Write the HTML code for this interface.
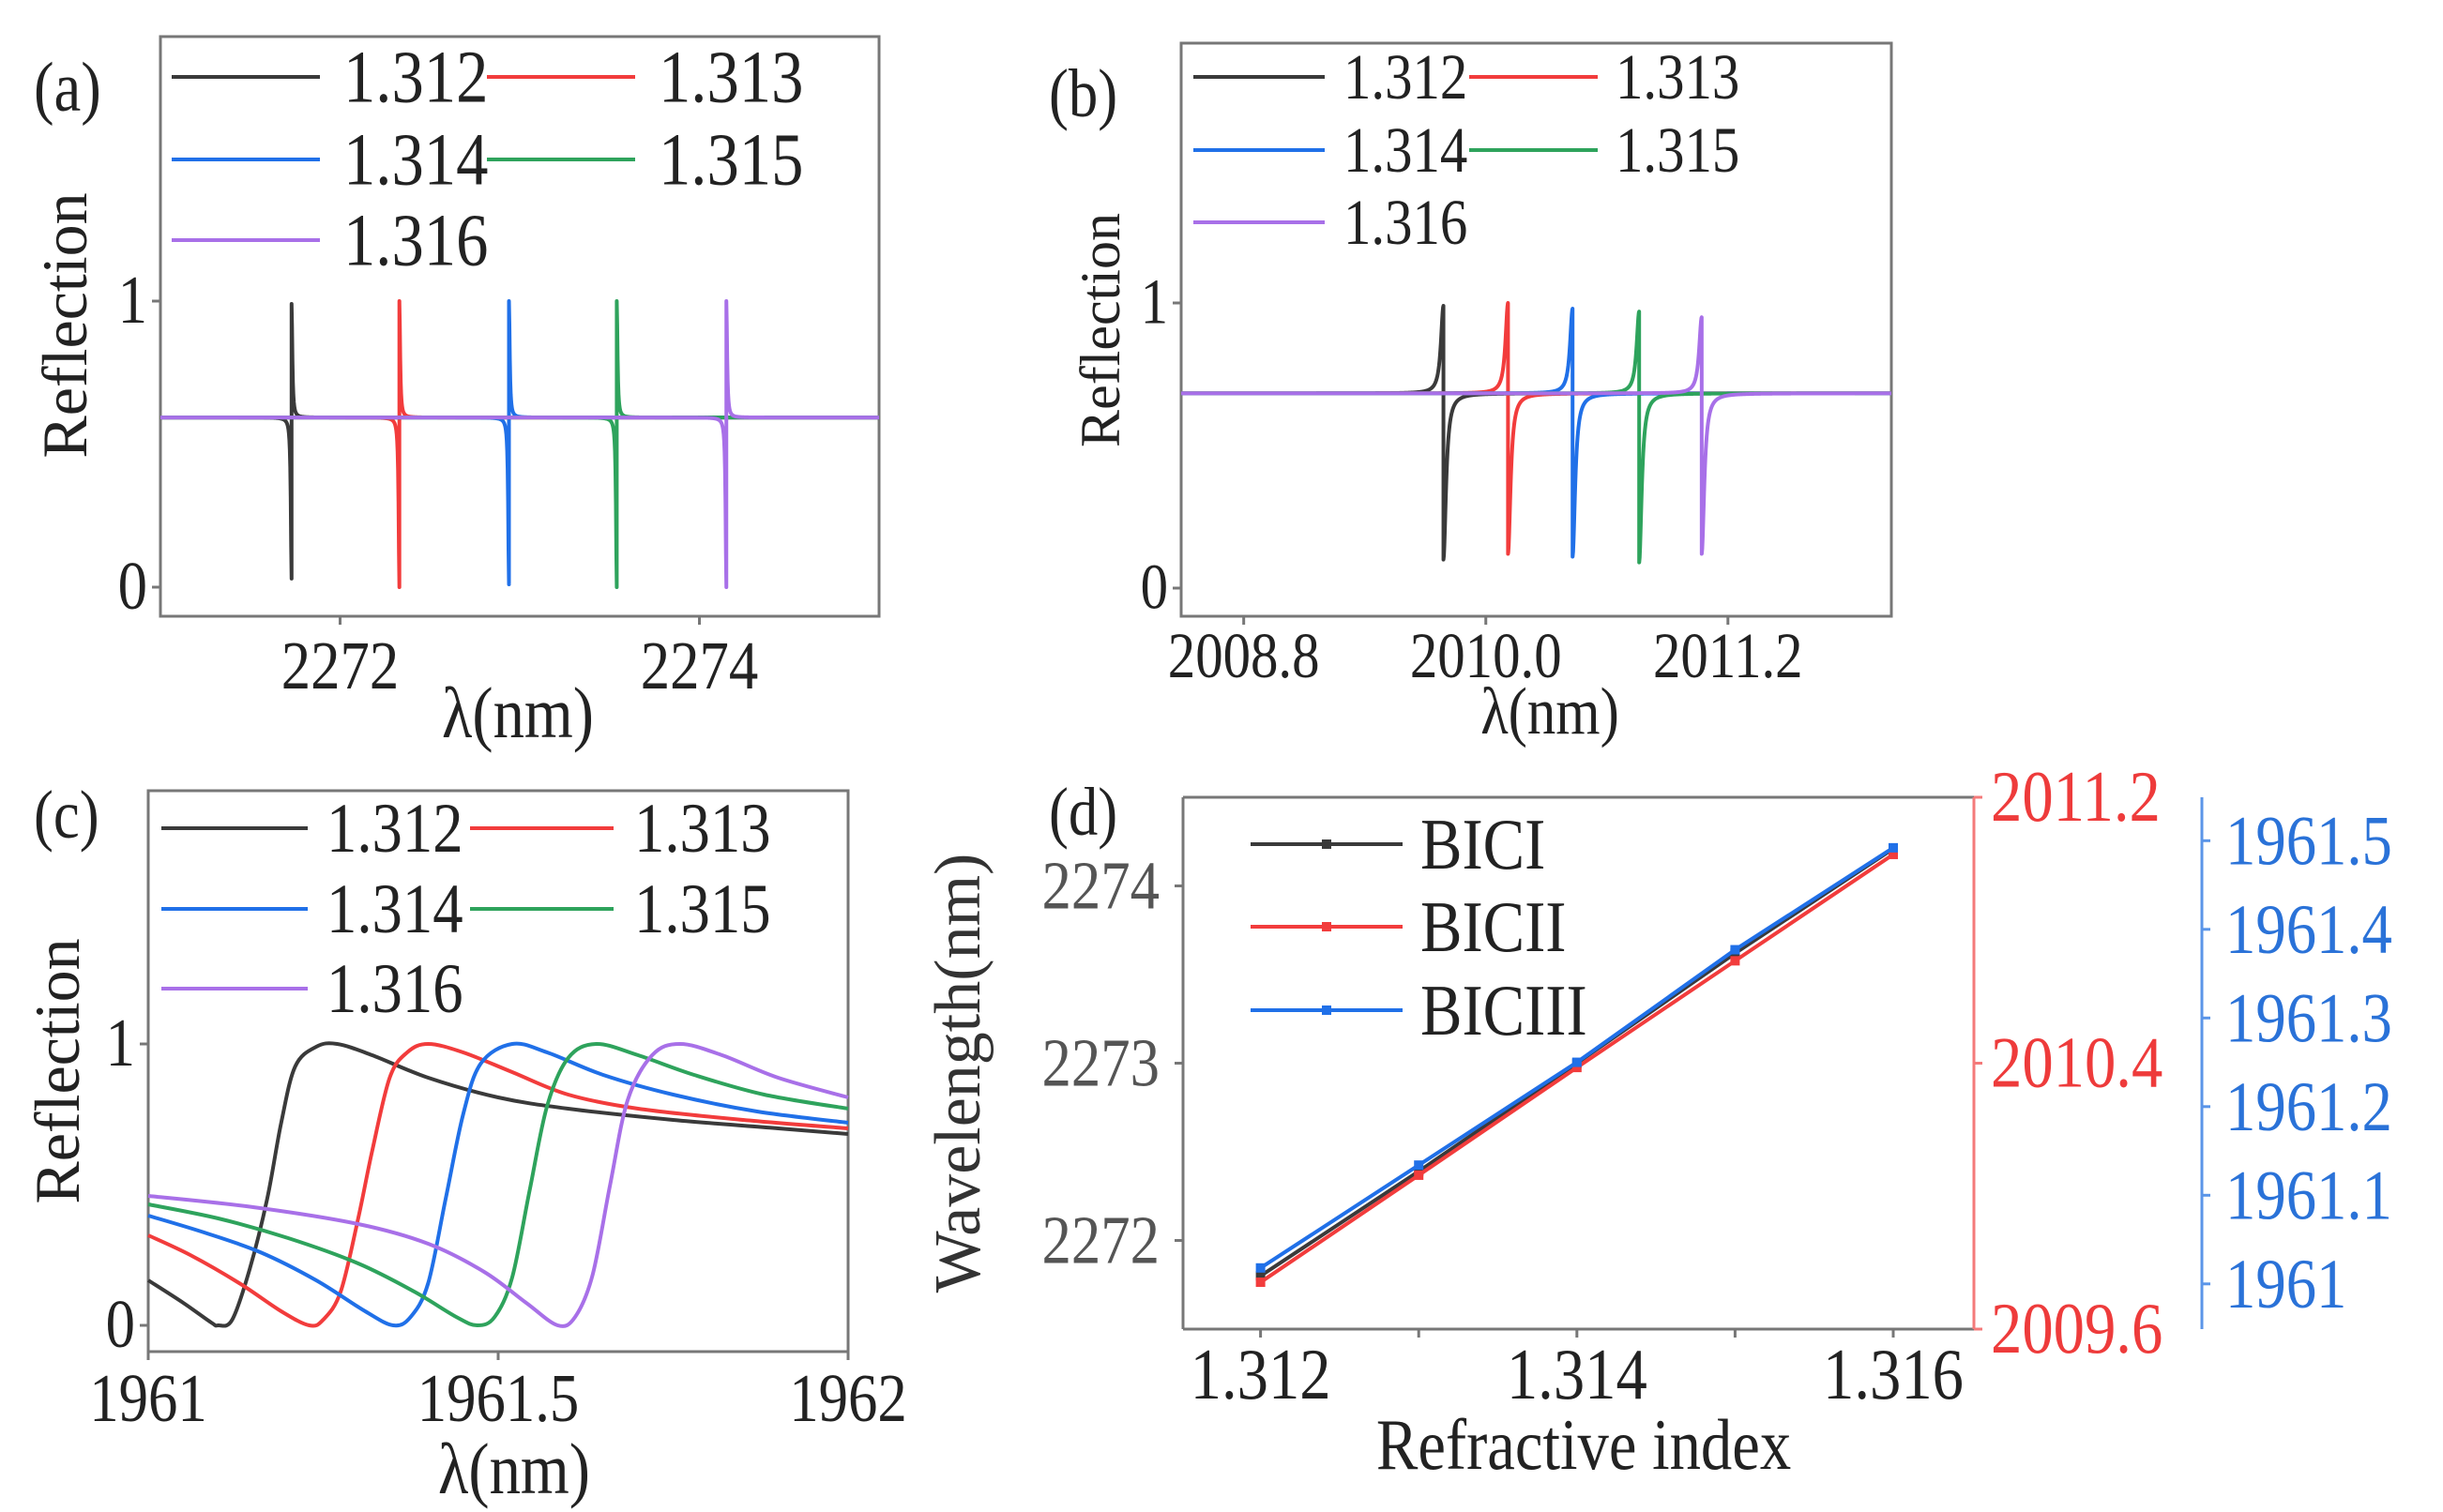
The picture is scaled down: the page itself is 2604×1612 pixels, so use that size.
<!DOCTYPE html>
<html><head><meta charset="utf-8"><style>
html,body{margin:0;padding:0;background:#fff;}
svg{display:block;font-family:"Liberation Serif","DejaVu Serif",serif;}
</style></head><body>
<svg id="fig" xmlns="http://www.w3.org/2000/svg" width="2604" height="1612" viewBox="0 0 2604 1612"></svg>
<script>
// ---------- data ----------
const seriesLabels = ['1.312','1.313','1.314','1.315','1.316'];
// panel (a)
const aCenters = [2271.73, 2272.33, 2272.94, 2273.54, 2274.15];
const aTops = [0.99, 1.0, 1.0, 1.0, 1.0];
const aBottoms = [0.03, 0.0, 0.01, 0.0, 0.0];
const aBase = [0.593, 0.593, 0.593, 0.593, 0.593];
const aXTicks = [2272, 2274];
const aYTicks = [0, 1];
// panel (b)
const bCenters = [2009.79, 2010.11, 2010.43, 2010.76, 2011.07];
const bTops = [0.99, 1.0, 0.98, 0.97, 0.95];
const bBottoms = [0.10, 0.12, 0.11, 0.09, 0.12];
const bBase = [0.683, 0.683, 0.683, 0.683, 0.683];
const bXTicks = [2008.8, 2010.0, 2011.2];
const bXTickLabels = ['2008.8', '2010.0', '2011.2'];
// panel (c): [lambda, R] samples
const cBlack = [[1961.0,0.16],[1961.05,0.08],[1961.09,0.01],[1961.10,0.0],[1961.12,0.02],[1961.145,0.2],[1961.17,0.45],[1961.19,0.72],[1961.21,0.92],[1961.24,0.99],[1961.27,1.0],[1961.32,0.96],[1961.40,0.88],[1961.50,0.81],[1961.60,0.77],[1961.75,0.73],[1961.90,0.70],[1962.0,0.68]];
const cRed = [[1961.0,0.32],[1961.06,0.25],[1961.13,0.15],[1961.19,0.05],[1961.23,0.0],[1961.25,0.02],[1961.275,0.12],[1961.30,0.38],[1961.32,0.62],[1961.345,0.88],[1961.37,0.97],[1961.40,1.0],[1961.45,0.97],[1961.52,0.90],[1961.60,0.82],[1961.70,0.77],[1961.85,0.73],[1962.0,0.70]];
const cBlue = [[1961.0,0.39],[1961.08,0.33],[1961.16,0.26],[1961.24,0.16],[1961.31,0.05],[1961.35,0.0],[1961.375,0.03],[1961.40,0.15],[1961.425,0.45],[1961.45,0.75],[1961.475,0.93],[1961.52,1.0],[1961.57,0.97],[1961.65,0.89],[1961.75,0.82],[1961.87,0.76],[1962.0,0.72]];
const cGreen = [[1961.0,0.43],[1961.10,0.38],[1961.20,0.31],[1961.30,0.22],[1961.38,0.12],[1961.44,0.03],[1961.47,0.0],[1961.495,0.03],[1961.52,0.17],[1961.545,0.48],[1961.57,0.78],[1961.60,0.95],[1961.64,1.0],[1961.70,0.96],[1961.78,0.89],[1961.88,0.82],[1962.0,0.77]];
const cPurple = [[1961.0,0.46],[1961.15,0.42],[1961.30,0.36],[1961.40,0.29],[1961.48,0.19],[1961.54,0.08],[1961.585,0.0],[1961.61,0.03],[1961.635,0.18],[1961.66,0.50],[1961.685,0.80],[1961.72,0.96],[1961.76,1.0],[1961.82,0.96],[1961.90,0.88],[1962.0,0.81]];
const cXTicks = [1961, 1961.5, 1962];
// panel (d)
const dIndex = [1.312, 1.313, 1.314, 1.315, 1.316];
const dBIC1 = [2271.80, 2272.39, 2273.00, 2273.62, 2274.21];
const dBIC2 = [2009.741, 2010.063, 2010.387, 2010.708, 2011.028];
const dBIC3 = [1961.018, 1961.134, 1961.250, 1961.377, 1961.492];
const dXTicks = [1.312, 1.313, 1.314, 1.315, 1.316];
const dXTickLabels = ['1.312', '', '1.314', '', '1.316'];
const dLeftTicks = [2272, 2273, 2274];
const dRedTicks = [2009.6, 2010.4, 2011.2];
const dRedTickLabels = ['2009.6', '2010.4', '2011.2'];
const dBlueTicks = [1961, 1961.1, 1961.2, 1961.3, 1961.4, 1961.5];
const dBlueTickLabels = ['1961', '1961.1', '1961.2', '1961.3', '1961.4', '1961.5'];

const COLORS = ['#3a3a3a', '#f23c3c', '#2070e8', '#2ea35c', '#a870e8'];
const NS = 'http://www.w3.org/2000/svg';
const svg = document.getElementById('fig');
const SX = 0.86, FS = 1.14;

function mk(tag, attrs, parent) {
  const e = document.createElementNS(NS, tag);
  for (const k in attrs) e.setAttribute(k, attrs[k]);
  (parent || svg).appendChild(e);
  return e;
}
function txt(str, x, y, size, attrs, parent) {
  const a = Object.assign({x: 0, y: 0, 'font-size': size * FS, fill: '#222'}, attrs || {});
  if (!a.transform) a.transform = 'translate(' + x + ',' + y + ') scale(' + SX + ',1)';
  else a['font-size'] = size;
  const t = mk('text', a, parent);
  t.textContent = str;
  return t;
}
function scale(d0, d1, r0, r1) { return v => r0 + (v - d0) / (d1 - d0) * (r1 - r0); }

function frame(g, L, T, R, B) {
  const f = mk('rect', {x: L, y: T, width: R - L, height: B - T, fill: 'none', stroke: '#777', 'stroke-width': 3}, g);
  
  
}

function fanoPanel(opts) {
  const g = mk('g', {});
  
  
  const X = scale(opts.xmin, opts.xmax, opts.L, opts.R);
  const Y = scale(0, 1, opts.y0, opts.y1);
  frame(g, opts.L, opts.T, opts.R, opts.B);
  for (let i = 0; i < opts.centers.length; i++) {
    const c = opts.centers[i], top = opts.tops[i], bot = opts.bottoms[i], base = opts.base[i], w = opts.width;
    const pts = [];
    let jumped = false;
    const N = 1600;
    for (let k = 0; k <= N; k++) {
      const x = opts.xmin + (opts.xmax - opts.xmin) * k / N;
      if (x >= c && !jumped) {
        const l = opts.dipFirst ? bot : top;
        const r = opts.dipFirst ? top : bot;
        pts.push([X(c), Y(l)]); pts.push([X(c), Y(r)]); jumped = true;
      }
      const d = Math.abs(x - c) / w;
      const L = 1 / (1 + d * d);
      const leftSide = x < c;
      const isDip = opts.dipFirst ? leftSide : !leftSide;
      const y = isDip ? base - (base - bot) * L : base + (top - base) * L;
      pts.push([X(x), Y(y)]);
    }
    const p = mk('path', {d: 'M' + pts.map(q => q[0].toFixed(2) + ',' + q[1].toFixed(2)).join('L'), fill: 'none', stroke: COLORS[i], 'stroke-width': 4, 'stroke-linejoin': 'round'}, g);
    
    
  }
  axesAndLegend(g, opts, X, Y);
}

function axesAndLegend(g, opts, X, Y) {
  opts.xticks.forEach((v, i) => {
    mk('line', {x1: X(v), x2: X(v), y1: opts.B, y2: opts.B + 9, stroke: '#777', 'stroke-width': 3}, g);
    const t = txt(opts.xtickLabels ? opts.xtickLabels[i] : String(v), X(v), opts.xtickY, opts.tickSize, {'text-anchor': 'middle'}, g);
    
    
  });
  [0, 1].forEach(v => {
    mk('line', {x1: opts.L - 9, x2: opts.L, y1: Y(v), y2: Y(v), stroke: '#777', 'stroke-width': 3}, g);
    const t = txt(String(v), opts.L - 14, Y(v) + opts.tickSize * 0.36, opts.tickSize, {'text-anchor': 'end'}, g);
    
    
  });
  const yl = txt('Reflection', 0, 0, opts.ylabSize, {'text-anchor': 'middle', transform: 'translate(' + opts.ylab[0] + ',' + opts.ylab[1] + ') rotate(-90)'}, g);
  
  
  const xl = txt('λ(nm)', opts.xlab[0], opts.xlab[1], opts.xlabSize, {'text-anchor': 'middle'}, g);
  
  
  const pl = txt(opts.panel, opts.panelPos[0], opts.panelPos[1], opts.panelSize, {}, g);
  
  
  const lg = opts.legend;
  for (let i = 0; i < seriesLabels.length; i++) {
    const col = i % 2, row = Math.floor(i / 2);
    const y = lg.rows[row];
    const ent = mk('g', {}, g);
    
    
    mk('line', {x1: lg.lineX[col][0], x2: lg.lineX[col][1], y1: y, y2: y, stroke: COLORS[i], 'stroke-width': 4}, ent);
    txt(seriesLabels[i], lg.textX[col], y + lg.size * 0.38, lg.size, {}, ent);
  }
}

// ---------- panel (a) ----------
fanoPanel({name: 'panel-a', L: 171, R: 937, T: 39, B: 657, xmin: 2271.0, xmax: 2275.0, y0: 626, y1: 321,
  centers: aCenters, tops: aTops, bottoms: aBottoms, base: aBase, width: 0.005, dipFirst: true,
  xticks: aXTicks, xtickY: 734, tickSize: 64, ylab: [92, 347], ylabSize: 68, xlab: [552, 786], xlabSize: 68,
  panel: '(a)', panelPos: [36, 118], panelSize: 66,
  legend: {rows: [82, 170, 256], lineX: [[183, 341], [519, 677]], textX: [366, 702], size: 70}});

// ---------- panel (b) ----------
fanoPanel({name: 'panel-b', L: 1259, R: 2016, T: 46, B: 657, xmin: 2008.49, xmax: 2012.01, y0: 627, y1: 323,
  centers: bCenters, tops: bTops, bottoms: bBottoms, base: bBase, width: 0.015, dipFirst: false,
  xticks: bXTicks, xtickLabels: bXTickLabels, xtickY: 722, tickSize: 60, ylab: [1193, 352], ylabSize: 60, xlab: [1652, 782], xlabSize: 62,
  panel: '(b)', panelPos: [1118, 124], panelSize: 64,
  legend: {rows: [82, 160, 237], lineX: [[1272, 1412], [1566, 1703]], textX: [1432, 1722], size: 60}});

// ---------- panel (c) ----------
(function () {
  const L = 158, R = 904, T = 843, B = 1441;
  const g = mk('g', {});
  
  
  const X = scale(1961, 1962, L, R);
  const Y = scale(0, 1, 1413, 1113);
  frame(g, L, T, R, B);
  const all = [cBlack, cRed, cBlue, cGreen, cPurple];
  all.forEach((data, i) => {
    const P = data.map(d => [X(d[0]), Y(d[1])]);
    let d = 'M' + P[0][0].toFixed(2) + ',' + P[0][1].toFixed(2);
    for (let k = 0; k < P.length - 1; k++) {
      const p0 = P[Math.max(0, k - 1)], p1 = P[k], p2 = P[k + 1], p3 = P[Math.min(P.length - 1, k + 2)];
      const c1 = [p1[0] + (p2[0] - p0[0]) / 6, p1[1] + (p2[1] - p0[1]) / 6];
      const c2 = [p2[0] - (p3[0] - p1[0]) / 6, p2[1] - (p3[1] - p1[1]) / 6];
      d += 'C' + c1[0].toFixed(2) + ',' + c1[1].toFixed(2) + ' ' + c2[0].toFixed(2) + ',' + c2[1].toFixed(2) + ' ' + p2[0].toFixed(2) + ',' + p2[1].toFixed(2);
    }
    const p = mk('path', {d: d, fill: 'none', stroke: COLORS[i], 'stroke-width': 4}, g);
    
    
  });
  axesAndLegend(g, {L: L, R: R, T: T, B: B, xticks: cXTicks, xtickY: 1515, tickSize: 64,
    ylab: [84, 1142], ylabSize: 68, xlab: [548, 1592], xlabSize: 68, panel: '(c)', panelPos: [36, 893], panelSize: 64,
    legend: {rows: [883, 969, 1054], lineX: [[172, 328], [501, 654]], textX: [348, 676], size: 66}}, X, Y);
})();

// ---------- panel (d) ----------
(function () {
  const L = 1261, R = 2104, T = 850, B = 1417;
  const g = mk('g', {});
  
  
  const X = scale(1.31151, 1.31651, L, R);
  const Yl = scale(2271.5, 2274.5, B, T);
  const Yr = scale(2009.6, 2011.2, B, T);
  const Yb = scale(1960.949, 1961.549, B, T);
  mk('line', {x1: L, x2: L, y1: T, y2: B, stroke: '#777', 'stroke-width': 3}, g);
  mk('line', {x1: L, x2: R, y1: T, y2: T, stroke: '#777', 'stroke-width': 3}, g);
  mk('line', {x1: L, x2: R, y1: B, y2: B, stroke: '#777', 'stroke-width': 3}, g);
  const ra = mk('line', {x1: R, x2: R, y1: T, y2: B, stroke: '#f47a7a', 'stroke-width': 3}, g);
  
  
  const ba = mk('line', {x1: 2347, x2: 2347, y1: T, y2: B, stroke: '#5b95e8', 'stroke-width': 3}, g);
  
  
  dXTicks.forEach((v, i) => {
    mk('line', {x1: X(v), x2: X(v), y1: B, y2: B + 9, stroke: '#777', 'stroke-width': 3}, g);
    if (dXTickLabels[i]) {
      const t = txt(dXTickLabels[i], X(v), 1491, 68, {'text-anchor': 'middle'}, g);
      
      
    }
  });
  dLeftTicks.forEach(v => {
    mk('line', {x1: L - 9, x2: L, y1: Yl(v), y2: Yl(v), stroke: '#777', 'stroke-width': 3}, g);
    const t = txt(String(v), 1236, Yl(v) + 24, 64, {'text-anchor': 'end', fill: '#555'}, g);
    
    
  });
  dRedTicks.forEach((v, i) => {
    mk('line', {x1: R, x2: R + 9, y1: Yr(v), y2: Yr(v), stroke: '#f47a7a', 'stroke-width': 3}, g);
    const t = txt(dRedTickLabels[i], 2122, Yr(v) + 25, 68, {fill: '#ee3b3b'}, g);
    
    
  });
  dBlueTicks.forEach((v, i) => {
    mk('line', {x1: 2347, x2: 2356, y1: Yb(v), y2: Yb(v), stroke: '#5b95e8', 'stroke-width': 3}, g);
    const t = txt(dBlueTickLabels[i], 2372, Yb(v) + 25, 66, {fill: '#2a72d8'}, g);
    
    
  });
  const series = [[dBIC1, Yl, COLORS[0], 'BICI'], [dBIC2, Yr, COLORS[1], 'BICII'], [dBIC3, Yb, COLORS[2], 'BICIII']];
  series.forEach(s => {
    const pts = s[0].map((v, i) => [X(dIndex[i]), s[1](v)]);
    const p = mk('polyline', {points: pts.map(q => q.join(',')).join(' '), fill: 'none', stroke: s[2], 'stroke-width': 4}, g);
    
    
    pts.forEach(q => {
      const m = mk('rect', {x: q[0] - 5, y: q[1] - 5, width: 10, height: 10, fill: s[2]}, g);
      
      
    });
  });
  const legRows = [900, 988, 1077];
  series.forEach((s, i) => {
    const ent = mk('g', {}, g);
    
    
    mk('line', {x1: 1333, x2: 1495, y1: legRows[i], y2: legRows[i], stroke: s[2], 'stroke-width': 4}, ent);
    mk('rect', {x: 1409, y: legRows[i] - 5, width: 10, height: 10, fill: s[2]}, ent);
    txt(s[3], 1514, legRows[i] + 26, 68, {}, ent);
  });
  const yl = txt('Wavelength(nm)', 0, 0, 70, {'text-anchor': 'middle', fill: '#333', transform: 'translate(1044,1144) rotate(-90)'}, g);
  
  
  const xl = txt('Refractive index', 1688, 1566, 68, {'text-anchor': 'middle'}, g);
  
  
  const pl = txt('(d)', 1118, 890, 64, {}, g);
  
  
})();
</script>
</body></html>
